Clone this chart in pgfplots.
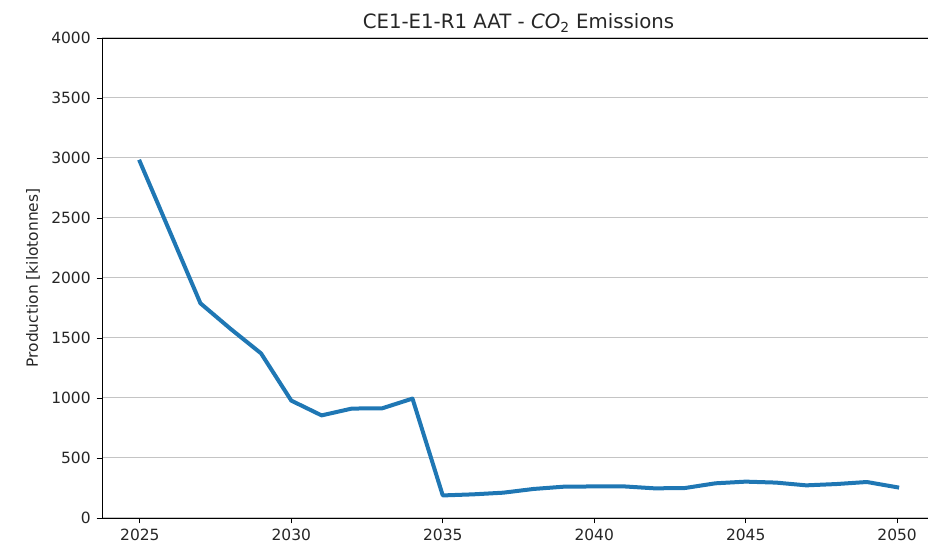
\documentclass[border=0pt]{standalone}
\usepackage{pgfplots}
\pgfplotsset{compat=1.18}
\usepackage{fontspec}
\setmainfont{DejaVu Sans}
\definecolor{mplblue}{HTML}{1F77B4}
\definecolor{gridgray}{HTML}{C4C4C4}
\definecolor{txt}{HTML}{262626}
\begin{document}
\begin{tikzpicture}
\path[use as bounding box, clip] (-76.5pt,-20.25pt) rectangle (619.5pt,388.5pt);
\begin{axis}[
  at={(0,0)}, anchor=south west,
  scale only axis,
  width=624.75pt, height=360pt,
  xmin=2023.75, xmax=2051.25,
  ymin=0, ymax=4000,
  xtick={2025,2030,...,2050},
  ytick={0,500,...,4000},
  ymajorgrids,
  grid style={gridgray, line width=0.75pt},
  tick align=outside,
  tick pos=left,
  major tick length=4pt,
  tick style={black, line width=0.6pt},
  axis line style={black, line width=0.6pt},
  every tick label/.append style={font=\fontsize{11.6}{13}\selectfont, text=txt},
  xticklabel style={yshift=-1pt},
  yticklabel style={xshift=-1pt},
  /pgf/number format/assume math mode=true,
  /pgf/number format/1000 sep={},
  ylabel={Production [kilotonnes]},
  ylabel style={font=\fontsize{11.6}{13}\selectfont, text=txt, at={(axis description cs:-0.0828,0.5)}, anchor=center},
  title={CE1-E1-R1 AAT - {\itshape CO}\textsubscript{2} Emissions},
  title style={font=\fontsize{14.8}{16}\selectfont, text=txt, at={(axis description cs:0.5,1.0)}, anchor=base, yshift=0.75pt},
]
\addplot[mplblue, line width=3pt, line join=round, line cap=rect] coordinates {
(2025,2970) (2026,2380) (2027,1789) (2028,1575) (2029,1372) (2030,978)
(2031,855) (2032,912) (2033,914) (2034,995) (2035,188) (2036,197)
(2037,211) (2038,242) (2039,261) (2040,263) (2041,263) (2042,247)
(2043,250) (2044,289) (2045,303) (2046,295) (2047,272) (2048,283)
(2049,300) (2050,256)
};
\end{axis}
\end{tikzpicture}
\end{document}
